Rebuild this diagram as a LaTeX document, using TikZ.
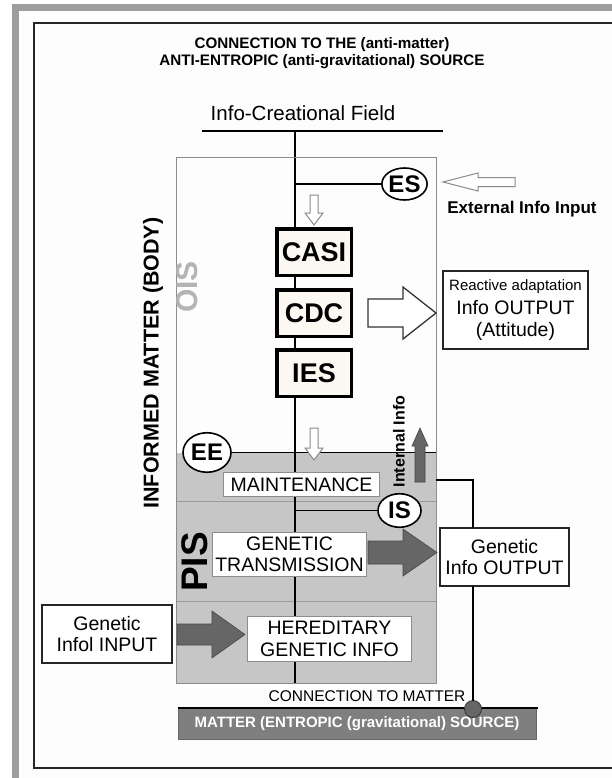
\documentclass[tikz,border=0pt]{standalone}
\usepackage{fontspec}
\setmainfont{Liberation Sans}
\usepackage{tikz}
\usetikzlibrary{shapes,positioning,calc}

\definecolor{framegray}{HTML}{9E9E9E}
\definecolor{paper}{HTML}{FDFDFD}
\definecolor{pisgray}{HTML}{C6C6C6}
\definecolor{divgray}{HTML}{9A9A9A}
\definecolor{arrowgray}{HTML}{666666}
\definecolor{arrowline}{HTML}{8A8A8A}
\definecolor{mattergray}{HTML}{7F7F7F}
\definecolor{oisgray}{HTML}{B4B4B4}
\definecolor{boxcream}{HTML}{FCF9F2}
\definecolor{boxline}{HTML}{8C8C8C}

\newcommand{\fsz}[2]{\fontsize{#1}{#2}\selectfont}

\begin{document}
\begin{tikzpicture}[x=1pt,y=-1pt,
    every node/.style={inner sep=0pt, outer sep=0pt},
    thinbox/.style={draw=boxline, line width=0.8pt, fill=white, align=center, font=\fsz{19.5}{21.5}},
    outbox/.style={draw=black!85, line width=2pt, fill=white, align=center, font=\fsz{19.5}{21.5}},
    corebox/.style={draw, line width=3.5pt, fill=boxcream, minimum width=74.5pt, minimum height=46.5pt, font=\fsz{27}{30}\bfseries},
    tag/.style={ellipse, draw, line width=1.6pt, fill=white, font=\fsz{24}{26}\bfseries},
    link/.style={line width=1.8pt},
    whitearrow/.style={fill=white, draw=arrowline, line width=1pt},
    darkarrow/.style={fill=arrowgray, draw=arrowgray!70!black, line width=0.6pt},
    sidetext/.style={rotate=90, font=\bfseries}
]
    \useasboundingbox (0,0) rectangle (612,778);

    % Page and frame
    \fill[paper] (19,11) rectangle (612,778);
    \fill[framegray] (12,4) rectangle (612,11);
    \fill[framegray] (12,4) rectangle (19,778);
    \draw[line width=1.2pt, black!85] (612,23) -- (34,23) -- (34,768) -- (612,768);

    % Title and field
    \node[font=\fsz{15.2}{17}\bfseries, align=center] (title) at (322,53.5)
        {CONNECTION TO THE (anti-matter)\\ANTI-ENTROPIC (anti-gravitational) SOURCE};
    \node[font=\fsz{20.5}{23}] (field) at (303,113) {Info-Creational Field};
    \coordinate (fieldL) at (202,131);
    \coordinate (fieldR) at (443,131);
    \coordinate (top) at (295,131);
    \coordinate (bottom) at (295,683);
    \coordinate (oisNW) at (176,158);
    \coordinate (oisSE) at (436,683);

    % PIS part of the body
    \fill[pisgray] (176,453) rectangle (oisSE);
    \draw[divgray, line width=0.8pt] (176,501) -- (436,501);
    \draw[divgray, line width=0.8pt] (176,601) -- (436,601);

    \draw[link] (fieldL) -- (fieldR);
    \draw[line width=2.2pt] (top) -- (bottom);
    \draw[boxline, line width=1pt] (oisNW) rectangle (oisSE);

    % Side labels
    \node[sidetext, font=\fsz{21.5}{24}\bfseries] (body) at (153,363) {INFORMED MATTER (BODY)};
    \node[sidetext, font=\fsz{30}{32}\bfseries, text=oisgray] (ois) at (187.5,287) {OIS};
    \node[sidetext, font=\fsz{37}{40}\bfseries] (pis) at (195,562) {PIS};

    % OIS chain
    \node[corebox] (casi) at (314,252) {CASI};
    \node[corebox] (cdc) at (314,313) {CDC};
    \node[corebox] (ies) at (314,373) {IES};

    \node[tag, minimum width=44pt, minimum height=32pt] (es) at (404.5,184) {ES};
    \node[tag, minimum width=48pt, minimum height=39.5pt] (ee) at (207,452.5) {EE};
    \node[tag, minimum width=43pt, minimum height=33.5pt] (is) at (399.5,510.5) {IS};
    \draw[link] (es.west -| top) -- (es.west);
    \draw[link] (ee.east) -- (ee.east -| oisSE);
    \draw[link] (is.west -| top) -- (is.west);

    % Down arrows into the chain
    \draw[whitearrow] (310,195) -- (318,195) -- (318,213) -- (323,213) -- (314,225)
        -- (305,213) -- (310,213) -- cycle;
    \draw[whitearrow] (310,428) -- (318,428) -- (318,448) -- (323,448) -- (314,460)
        -- (305,448) -- (310,448) -- cycle;

    % External input
    \draw[whitearrow] (443,182) -- (478,173) -- (478,177.5) -- (515,177.5)
        -- (515,186.5) -- (478,186.5) -- (478,191) -- cycle;
    \node[font=\fsz{17}{19}\bfseries] (extin) at (522,209) {External Info Input};

    % Reactive output
    \node[outbox, minimum width=145pt, minimum height=78pt] (react) at (515.5,310)
        {{\fsz{15}{17}Reactive adaptation}\\[3pt]Info OUTPUT\\(Attitude)};
    \draw[fill=white, draw=black!80, line width=1.3pt] (368,299) -- (403,299) -- (403,287)
        -- (436,313) -- (403,339) -- (403,327) -- (368,327) -- cycle;

    % Internal info
    \draw[darkarrow] (420,428) -- (428,446) -- (425,446) -- (425,482) -- (415,482)
        -- (415,446) -- (412,446) -- cycle;
    \node[sidetext, font=\fsz{16}{18}\bfseries] (intinfo) at (399,441.5) {Internal Info};

    % PIS boxes
    \node[thinbox, minimum width=156pt, minimum height=24pt] (maint) at (301.5,484.5) {MAINTENANCE};
    \node[thinbox, minimum width=154pt, minimum height=44pt] (gtrans) at (289.5,554.5) {GENETIC\\TRANSMISSION};
    \node[thinbox, minimum width=164pt, minimum height=45pt] (hered) at (329.5,639) {HEREDITARY\\GENETIC INFO};

    % Genetic output
    \node[outbox, minimum width=129pt, minimum height=58pt] (gout) at (504.5,557) {Genetic\\Info OUTPUT};
    \draw[darkarrow] (368,541) -- (403,541) -- (403,529) -- (437,552.5) -- (403,576)
        -- (403,564) -- (368,564) -- cycle;

    % Genetic input
    \node[outbox, minimum width=130pt, minimum height=58pt] (gin) at (107,634) {Genetic\\Infol INPUT};
    \draw[darkarrow] (177,624) -- (212,624) -- (212,611) -- (245,634.5) -- (212,658)
        -- (212,645) -- (177,645) -- cycle;

    % Matter
    \node[fill=mattergray, draw=black!60, line width=0.6pt, minimum width=358pt, minimum height=31pt,
        text=white, font=\fsz{15}{17}\bfseries] (matter) at (357,723.5)
        {MATTER (ENTROPIC (gravitational) SOURCE)};
    \draw[line width=1.5pt] (matter.north west) -- ([xshift=2pt]matter.north east);
    \node[font=\fsz{15.5}{17}] (tomatter) at (367,696) {CONNECTION TO MATTER};
    \node[circle, fill=arrowgray, draw=black!80, line width=0.8pt, minimum size=17pt] (mdot) at (473,709) {};

    \coordinate (pisE) at (436,480);
    \coordinate (gtap) at (473,480);
    \draw[link] (pisE) -- (gtap) -- (gtap |- gout.north);
    \draw[link] (gtap |- gout.south) -- (mdot);
\end{tikzpicture}
\end{document}
